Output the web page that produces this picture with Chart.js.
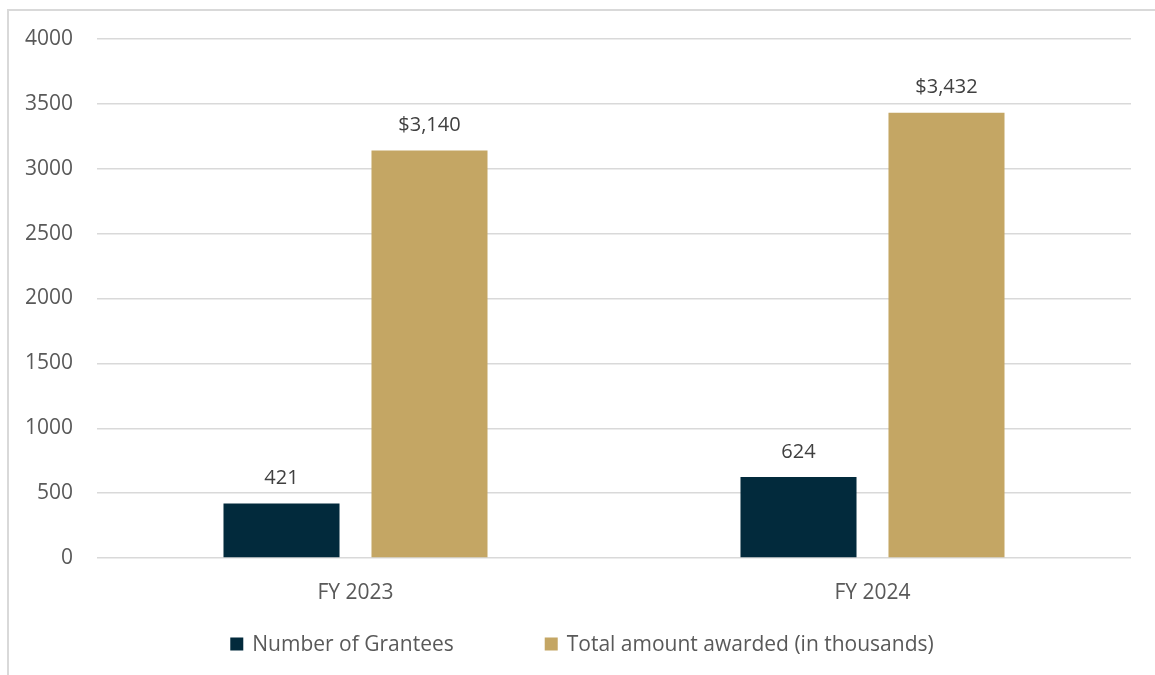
<!DOCTYPE html>
<html lang="en">
<head>
  <meta charset="UTF-8" />
  <title>Grantees and Total Awarded</title>
  <script src="https://cdn.jsdelivr.net/npm/chart.js"></script>
  <style>
    html, body { margin: 0; padding: 0; background: #fff; }
    .frame {
      position: absolute; left: 7px; top: 9px;
      width: 1146px; height: 664px;
      border-top: 2px solid #d9d9d9; border-left: 2px solid #d9d9d9;
    }
    canvas { display: block; }
  </style>
</head>
<body>
  <div class="frame">
    <canvas id="grantChart" width="1146" height="664"></canvas>
  </div>

  <script>
    const categories = ['FY 2023', 'FY 2024'];
    const grantees = [421, 624];
    const awarded = [3140, 3432];
    const seriesNames = ['Number of Grantees', 'Total amount awarded (in thousands)'];
    const labelPrefix = ['', '$'];
    const yTicks = [0, 500, 1000, 1500, 2000, 2500, 3000, 3500, 4000];

    const navy = '#022a3c';
    const gold = '#c4a664';
    const textGrey = '#595959';
    const font = "'Open Sans', 'Noto Sans', sans-serif";

    // value labels above every bar
    const barLabels = {
      id: 'barLabels',
      afterDatasetsDraw(chart) {
        const ctx = chart.ctx;
        ctx.save();
        ctx.font = '20px ' + font;
        ctx.fillStyle = '#404040';
        ctx.textAlign = 'center';
        ctx.textBaseline = 'middle';
        chart.data.datasets.forEach((ds, i) => {
          chart.getDatasetMeta(i).data.forEach((bar, j) => {
            const txt = labelPrefix[i] + ds.data[j].toLocaleString('en-US');
            ctx.fillText(txt, bar.x, bar.y - 25);
          });
        });
        ctx.restore();
      }
    };

    // legend row centred under the chart, Excel style spacing
    const legendRow = {
      id: 'legendRow',
      afterDraw(chart) {
        const ctx = chart.ctx;
        const box = 13, gapText = 9, gapItem = 91;
        const y = chart.chartArea.bottom + 86;
        ctx.save();
        ctx.font = '21px ' + font;
        ctx.textBaseline = 'middle';
        const items = chart.data.datasets.map(ds => ({
          text: ds.label, color: ds.backgroundColor, w: ctx.measureText(ds.label).width
        }));
        let total = items.reduce((s, it) => s + box + gapText + it.w, 0) + gapItem * (items.length - 1);
        let x = (chart.width - total) / 2;
        items.forEach(it => {
          ctx.fillStyle = it.color;
          ctx.fillRect(x, y - box / 2, box, box);
          ctx.fillStyle = textGrey;
          ctx.fillText(it.text, x + box + gapText, y + 1);
          x += box + gapText + it.w + gapItem;
        });
        ctx.restore();
      }
    };

    new Chart(document.getElementById('grantChart'), {
      type: 'bar',
      data: {
        labels: categories,
        datasets: [
          { label: seriesNames[0], data: grantees, backgroundColor: navy },
          { label: seriesNames[1], data: awarded, backgroundColor: gold }
        ]
      },
      options: {
        responsive: false,
        animation: false,
        events: [],
        layout: { padding: { top: 28, right: 24, left: 0, bottom: 0 } },
        datasets: { bar: { categoryPercentage: 0.5725, barPercentage: 0.784 } },
        plugins: { legend: { display: false }, tooltip: { enabled: false } },
        scales: {
          x: {
            grid: { display: false },
            border: { display: false },
            ticks: { color: textGrey, font: { family: font, size: 21 }, padding: 14 },
            afterFit(axis) { axis.height = 117; }
          },
          y: {
            min: 0,
            max: 4000,
            afterBuildTicks(axis) { axis.ticks = yTicks.map(v => ({ value: v })); },
            grid: { color: '#d9d9d9', lineWidth: 1.5, drawTicks: false },
            border: { display: false },
            ticks: {
              color: textGrey, font: { family: font, size: 21 }, padding: 24,
              callback: v => String(v)
            },
            afterFit(axis) {
              axis.width = 88;
              axis.paddingTop = 0;
              axis.paddingBottom = 0;
            }
          }
        }
      },
      plugins: [barLabels, legendRow]
    });
  </script>
</body>
</html>
